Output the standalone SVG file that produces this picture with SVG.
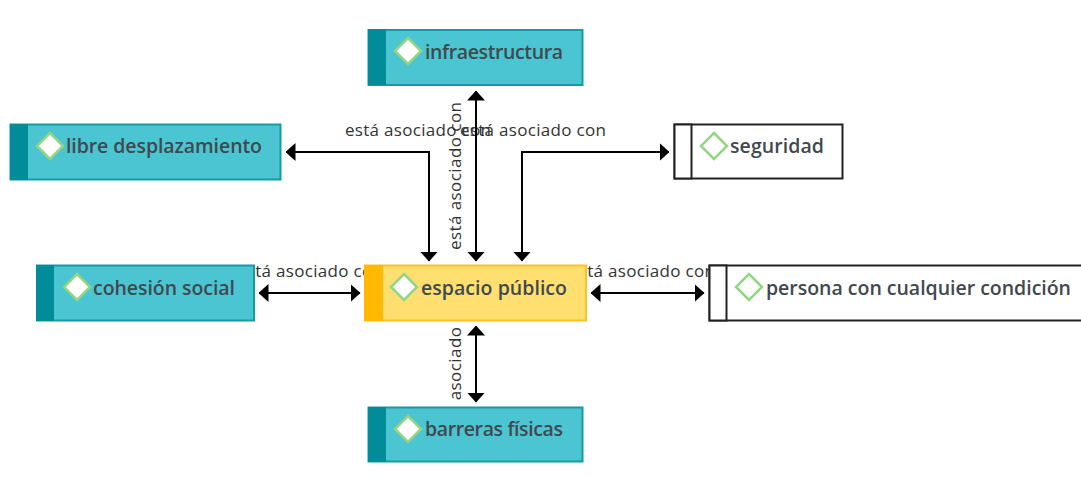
<svg xmlns="http://www.w3.org/2000/svg" width="1081" height="486" viewBox="0 0 1081 486">
<style>
.lbl{font:17px "Open Sans","Noto Sans",sans-serif;fill:#333}
.name{font:600 19.5px "Open Sans","Noto Sans",sans-serif;fill:#41484e}
.con{fill:none;stroke:#000;stroke-width:2;marker-start:url(#ah);marker-end:url(#ah)}
.teal .box{fill:#4bc5d1;stroke:#169aa3;stroke-width:2}.teal .bar{fill:#008c99}
.yellow .box{fill:#ffdf70;stroke:#ffc222;stroke-width:2}.yellow .bar{fill:#ffb900}
.plain .box{fill:#fff;stroke:#222;stroke-width:2}.plain .bar{fill:#fff;stroke:#222;stroke-width:2}
.dia{fill:#fff;stroke:#94d584;stroke-width:2.5}.plain .dia{fill:none}
</style>
<defs>
<marker id="ah" viewBox="0 0 10 18" refX="9.5" refY="9" markerUnits="userSpaceOnUse" markerWidth="10" markerHeight="18" orient="auto-start-reverse"><path d="M0 0L10 9L0 18Z" fill="#000"/></marker>
<path id="d" d="M0-13L13 0L0 13L-13 0Z"/>
</defs>
<g id="labels">
<text class="lbl" x="345" y="136" textLength="146">está asociado con</text>
<text class="lbl" x="460" y="136" textLength="146">está asociado con</text>
<text class="lbl" transform="translate(461 250) rotate(-90)" textLength="148">está asociado con</text>
<text class="lbl" x="237" y="277" textLength="146">está asociado con</text>
<text class="lbl" x="569" y="277" textLength="146">está asociado con</text>
<text class="lbl" transform="translate(461 440) rotate(-90)" textLength="148">está asociado con</text>
</g>
<g id="connectors">
<path class="con" d="M429 261V152H286"/>
<path class="con" d="M522 261V152H669"/>
<path class="con" d="M476 261V91"/>
<path class="con" d="M360 293H259"/>
<path class="con" d="M591 293H704"/>
<path class="con" d="M476 326V402"/>
</g>
<g id="infraestructura" class="teal"><rect class="box" x="368.500" y="30" width="214" height="55"/><rect class="bar" x="368" y="29" width="18" height="56"/><use class="dia" href="#d" x="408" y="51"/><text class="name" x="425" y="59" textLength="138">infraestructura</text></g>
<g id="libre-desplazamiento" class="teal"><rect class="box" x="10.500" y="124.500" width="270" height="55"/><rect class="bar" x="10" y="124" width="18" height="56"/><use class="dia" href="#d" x="50" y="146"/><text class="name" x="66" y="153" textLength="196">libre desplazamiento</text></g>
<g id="seguridad" class="plain"><rect class="box" x="674.500" y="124.500" width="168" height="54"/><rect class="bar" x="674.500" y="124.500" width="17" height="54"/><use class="dia" href="#d" x="714" y="146"/><text class="name" x="730" y="153" textLength="94">seguridad</text></g>
<g id="cohesion-social" class="teal"><rect class="box" x="37" y="265.500" width="217" height="55"/><rect class="bar" x="36" y="265" width="18" height="56"/><use class="dia" href="#d" x="77" y="287"/><text class="name" x="93" y="295" textLength="142">cohesión social</text></g>
<g id="espacio-publico" class="yellow"><rect class="box" x="365" y="265.500" width="221" height="55"/><rect class="bar" x="364" y="265" width="19" height="56"/><use class="dia" href="#d" x="404" y="287"/><text class="name" x="421" y="295" textLength="146">espacio público</text></g>
<g id="persona" class="plain"><rect class="box" x="709.500" y="265.500" width="380" height="55"/><rect class="bar" x="709.500" y="265.500" width="17" height="55"/><use class="dia" href="#d" x="749" y="287"/><text class="name" x="766" y="295" textLength="305">persona con cualquier condición</text></g>
<g id="barreras-fisicas" class="teal"><rect class="box" x="368.500" y="407.500" width="214" height="54"/><rect class="bar" x="368" y="407" width="18" height="55"/><use class="dia" href="#d" x="408" y="429"/><text class="name" x="425" y="436" textLength="138">barreras físicas</text></g>
</svg>
